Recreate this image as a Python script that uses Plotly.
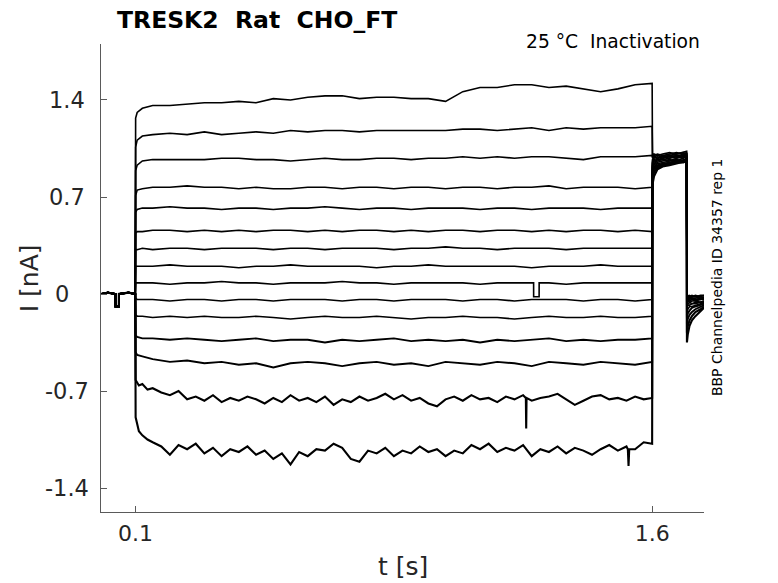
import plotly.graph_objects as go

# holding period before the test pulse (shared by all sweeps)
t_pre = [0.0, 0.02, 0.042, 0.0421, 0.052, 0.0521, 0.08, 0.0995]
i_pre = [0.0, 0.01, 0.0, -0.09, -0.09, 0.0, 0.01, 0.0]

# test pulse, 0.1 s .. 1.6 s
t_pulse = [0.1005, 0.105, 0.12, 0.15, 0.20, 0.25, 0.30, 0.35, 0.40, 0.45, 0.50,
           0.55, 0.60, 0.65, 0.70, 0.75, 0.80, 0.85, 0.90, 0.95, 1.00, 1.05,
           1.10, 1.15, 1.20, 1.25, 1.30, 1.35, 1.40, 1.45, 1.50, 1.55, 1.5995]

# the two noisiest sweeps are read on a finer grid
t_fine = [0.1005, 0.105, 0.11, 0.12, 0.135,
          0.150, 0.175, 0.200, 0.225, 0.250, 0.275, 0.300, 0.325, 0.350, 0.375,
          0.400, 0.425, 0.450, 0.475, 0.500, 0.525, 0.550, 0.575, 0.600, 0.625,
          0.650, 0.675, 0.700, 0.725, 0.750, 0.775, 0.800, 0.825, 0.850, 0.875,
          0.900, 0.925, 0.950, 0.975, 1.000, 1.025, 1.050, 1.075, 1.100, 1.125,
          1.150, 1.175, 1.200, 1.225, 1.250, 1.275, 1.300, 1.325, 1.350, 1.375,
          1.400, 1.425, 1.450, 1.475, 1.500, 1.525, 1.550, 1.575, 1.5995]

sweep01 = [1.27, 1.31, 1.34, 1.36, 1.36, 1.37, 1.38, 1.38, 1.39, 1.38, 1.41, 1.40, 1.42, 1.43, 1.43, 1.41, 1.42,
           1.42, 1.41, 1.41, 1.39, 1.46, 1.49, 1.49, 1.51, 1.51, 1.49, 1.50, 1.48, 1.46, 1.48, 1.51, 1.52]
sweep02 = [1.06, 1.11, 1.14, 1.15, 1.16, 1.15, 1.17, 1.15, 1.16, 1.17, 1.16, 1.18, 1.17, 1.18, 1.18, 1.17, 1.18,
           1.18, 1.18, 1.18, 1.18, 1.19, 1.19, 1.18, 1.19, 1.20, 1.18, 1.20, 1.19, 1.20, 1.20, 1.20, 1.21]
sweep03 = [0.89, 0.93, 0.96, 0.97, 0.97, 0.97, 0.97, 0.98, 0.98, 0.97, 0.97, 0.96, 0.97, 0.98, 0.97, 0.97, 0.98,
           0.98, 0.97, 0.98, 0.98, 0.99, 0.98, 0.99, 0.98, 0.99, 0.99, 0.98, 0.97, 0.99, 0.99, 0.99, 1.00]
sweep04 = [0.71, 0.75, 0.76, 0.77, 0.77, 0.78, 0.77, 0.77, 0.76, 0.77, 0.76, 0.76, 0.77, 0.77, 0.76, 0.77, 0.77,
           0.76, 0.77, 0.77, 0.76, 0.77, 0.77, 0.76, 0.77, 0.77, 0.78, 0.76, 0.77, 0.77, 0.77, 0.76, 0.77]
sweep05 = [0.59, 0.61, 0.62, 0.62, 0.63, 0.62, 0.62, 0.61, 0.62, 0.62, 0.61, 0.62, 0.62, 0.63, 0.62, 0.61, 0.62,
           0.62, 0.61, 0.62, 0.62, 0.62, 0.61, 0.62, 0.62, 0.61, 0.62, 0.62, 0.62, 0.61, 0.62, 0.62, 0.62]
sweep06 = [0.44, 0.45, 0.45, 0.46, 0.46, 0.45, 0.46, 0.45, 0.46, 0.45, 0.46, 0.46, 0.45, 0.46, 0.45, 0.46, 0.46,
           0.45, 0.46, 0.45, 0.46, 0.46, 0.45, 0.46, 0.46, 0.45, 0.46, 0.45, 0.46, 0.46, 0.45, 0.46, 0.45]
sweep07 = [0.32, 0.32, 0.33, 0.32, 0.33, 0.33, 0.32, 0.33, 0.33, 0.33, 0.32, 0.33, 0.33, 0.32, 0.33, 0.33, 0.33,
           0.32, 0.33, 0.33, 0.34, 0.33, 0.33, 0.32, 0.33, 0.33, 0.33, 0.32, 0.33, 0.33, 0.33, 0.33, 0.33]
sweep08 = [0.20, 0.20, 0.20, 0.20, 0.21, 0.20, 0.20, 0.20, 0.19, 0.20, 0.20, 0.21, 0.20, 0.20, 0.20, 0.20, 0.19,
           0.20, 0.20, 0.21, 0.20, 0.20, 0.20, 0.20, 0.20, 0.19, 0.20, 0.20, 0.20, 0.21, 0.20, 0.20, 0.20]
sweep09 = [0.08, 0.08, 0.08, 0.08, 0.07, 0.08, 0.08, 0.09, 0.08, 0.08, 0.07, 0.08, 0.08, 0.08, 0.09, 0.08, 0.08,
           0.07, 0.08, 0.08, 0.08, 0.08, 0.07, 0.08, 0.08, 0.08, 0.08, 0.07, 0.08, 0.08, 0.08, 0.08, 0.08]
sweep10 = [-0.03, -0.04, -0.04, -0.04, -0.05, -0.04, -0.04, -0.05, -0.04, -0.04, -0.05, -0.04, -0.04, -0.04,
           -0.05, -0.04, -0.04, -0.05, -0.04, -0.04, -0.04, -0.05, -0.04, -0.04, -0.05, -0.04, -0.04, -0.04,
           -0.05, -0.04, -0.04, -0.05, -0.04]
sweep11 = [-0.15, -0.16, -0.16, -0.17, -0.16, -0.17, -0.16, -0.17, -0.17, -0.16, -0.17, -0.18, -0.17, -0.16,
           -0.17, -0.17, -0.16, -0.17, -0.18, -0.17, -0.17, -0.16, -0.17, -0.17, -0.18, -0.17, -0.16, -0.17,
           -0.17, -0.16, -0.17, -0.17, -0.16]
sweep12 = [-0.30, -0.31, -0.32, -0.32, -0.33, -0.32, -0.33, -0.34, -0.33, -0.32, -0.34, -0.33, -0.33, -0.35,
           -0.33, -0.34, -0.33, -0.32, -0.34, -0.33, -0.34, -0.33, -0.35, -0.33, -0.34, -0.33, -0.32, -0.34,
           -0.33, -0.34, -0.33, -0.33, -0.32]
sweep13 = [-0.42, -0.44, -0.45, -0.47, -0.49, -0.48, -0.50, -0.49, -0.51, -0.50, -0.53, -0.50, -0.49, -0.50,
           -0.52, -0.50, -0.49, -0.51, -0.50, -0.52, -0.49, -0.50, -0.51, -0.49, -0.50, -0.52, -0.49, -0.50,
           -0.51, -0.49, -0.50, -0.51, -0.49]
sweep14 = [-0.62, -0.64, -0.66, -0.65, -0.69,
           -0.68, -0.71, -0.73, -0.70, -0.76, -0.74, -0.77, -0.73, -0.78, -0.75,
           -0.77, -0.74, -0.76, -0.79, -0.75, -0.78, -0.73, -0.77, -0.75, -0.78,
           -0.74, -0.80, -0.76, -0.78, -0.74, -0.77, -0.75, -0.72, -0.76, -0.73,
           -0.77, -0.75, -0.79, -0.81, -0.76, -0.74, -0.77, -0.73, -0.76, -0.75,
           -0.78, -0.74, -0.76, -0.73, -0.77, -0.75, -0.74, -0.72, -0.76, -0.80,
           -0.77, -0.74, -0.73, -0.76, -0.75, -0.77, -0.74, -0.76, -0.75]
sweep15 = [-0.89, -0.95, -0.99, -1.02, -1.05,
           -1.07, -1.10, -1.16, -1.09, -1.12, -1.08, -1.15, -1.11, -1.17, -1.12,
           -1.14, -1.10, -1.16, -1.13, -1.19, -1.15, -1.23, -1.14, -1.17, -1.12,
           -1.13, -1.08, -1.11, -1.19, -1.21, -1.13, -1.15, -1.11, -1.17, -1.13,
           -1.15, -1.10, -1.14, -1.12, -1.17, -1.13, -1.15, -1.09, -1.12, -1.08,
           -1.14, -1.11, -1.13, -1.09, -1.17, -1.12, -1.14, -1.10, -1.15, -1.11,
           -1.13, -1.16, -1.12, -1.09, -1.13, -1.10, -1.12, -1.07, -1.08]

# brief artefacts inside the pulse (time, current)
glitch09_t = [1.2555, 1.2556, 1.2715, 1.2716]
glitch09_i = [0.08, -0.02, -0.02, 0.08]
glitch14_t = [1.233, 1.234, 1.235]
glitch14_i = [-0.75, -0.97, -0.75]
glitch15_t = [1.529, 1.531, 1.533]
glitch15_i = [-1.12, -1.24, -1.12]

# tail step 1.6 .. 1.7 s
t_tail = [1.6005, 1.605, 1.615, 1.63, 1.65, 1.67, 1.69, 1.6995]
tail = [
    [1.00, 1.01, 1.00, 1.01, 1.02, 1.01, 1.02, 1.03],
    [0.99, 1.00, 1.01, 1.00, 1.01, 1.02, 1.01, 1.02],
    [0.98, 0.99, 1.00, 0.99, 1.00, 1.01, 1.02, 1.01],
    [0.97, 0.99, 0.98, 1.00, 0.99, 1.00, 1.01, 1.01],
    [0.96, 0.98, 0.99, 0.98, 1.00, 0.99, 1.00, 1.01],
    [0.95, 0.97, 0.98, 0.99, 0.98, 1.00, 0.99, 1.00],
    [0.94, 0.96, 0.97, 0.98, 0.99, 0.98, 1.00, 0.99],
    [0.93, 0.95, 0.97, 0.97, 0.98, 0.99, 0.98, 1.00],
    [0.92, 0.94, 0.96, 0.97, 0.96, 0.98, 0.99, 0.98],
    [0.91, 0.93, 0.95, 0.96, 0.97, 0.96, 0.98, 0.99],
    [0.89, 0.92, 0.94, 0.95, 0.96, 0.97, 0.96, 0.98],
    [0.87, 0.91, 0.93, 0.94, 0.95, 0.96, 0.97, 0.97],
    [0.85, 0.90, 0.92, 0.94, 0.94, 0.95, 0.96, 0.97],
    [0.83, 0.88, 0.91, 0.93, 0.94, 0.95, 0.95, 0.96],
    [0.79, 0.85, 0.90, 0.92, 0.93, 0.94, 0.95, 0.96],
]

# after the tail step, 1.7 .. 1.75 s
t_post = [1.7005, 1.703, 1.708, 1.715, 1.725, 1.74, 1.75]
post = [
    [-0.01, -0.01, -0.02, -0.01, -0.02, -0.01, -0.01],
    [-0.01, -0.02, -0.01, -0.02, -0.01, -0.02, -0.01],
    [-0.02, -0.02, -0.03, -0.02, -0.02, -0.03, -0.02],
    [-0.02, -0.03, -0.02, -0.03, -0.03, -0.02, -0.03],
    [-0.03, -0.03, -0.04, -0.03, -0.04, -0.03, -0.03],
    [-0.04, -0.04, -0.03, -0.04, -0.04, -0.04, -0.03],
    [-0.05, -0.04, -0.05, -0.04, -0.05, -0.04, -0.04],
    [-0.06, -0.05, -0.06, -0.05, -0.05, -0.06, -0.05],
    [-0.08, -0.07, -0.06, -0.07, -0.06, -0.06, -0.05],
    [-0.10, -0.08, -0.08, -0.07, -0.07, -0.06, -0.06],
    [-0.13, -0.11, -0.09, -0.09, -0.08, -0.07, -0.07],
    [-0.17, -0.14, -0.12, -0.10, -0.09, -0.08, -0.07],
    [-0.22, -0.18, -0.15, -0.13, -0.11, -0.09, -0.08],
    [-0.28, -0.23, -0.19, -0.16, -0.13, -0.11, -0.09],
    [-0.35, -0.29, -0.23, -0.19, -0.16, -0.12, -0.10],
]

sweeps = [sweep01, sweep02, sweep03, sweep04, sweep05, sweep06, sweep07, sweep08,
          sweep09, sweep10, sweep11, sweep12, sweep13, sweep14, sweep15]
glitches = {8: (glitch09_t, glitch09_i), 13: (glitch14_t, glitch14_i), 14: (glitch15_t, glitch15_i)}

y_ticks = [-1.4, -0.7, 0, 0.7, 1.4]
y_ticktext = ["-1.4", "-0.7", "0", "0.7", "1.4"]

FONT = "DejaVu Sans"
INK = "#262626"
AXIS = "#5a5a5a"

fig = go.Figure()
for k, sw in enumerate(sweeps):
    tt = t_fine if len(sw) == len(t_fine) else t_pulse
    pts = list(zip(tt, sw))
    if k in glitches:
        pts += list(zip(*glitches[k]))
        pts.sort()
    x = t_pre + [p[0] for p in pts] + t_tail + t_post
    y = i_pre + [p[1] for p in pts] + tail[k] + post[k]
    w = 1.6 if k < 11 else (1.9 if k < 13 else 2.1)
    fig.add_trace(go.Scatter(x=x, y=y, mode="lines", showlegend=False,
                             line=dict(color="black", width=w)))

fig.update_xaxes(range=[0, 1.75], tickvals=[0.1, 1.6], ticktext=["0.1", "1.6"],
                 ticks="inside", ticklen=6, tickcolor=AXIS, showline=True, linecolor=AXIS,
                 linewidth=1, showgrid=False, zeroline=False, ticklabelstandoff=2,
                 tickfont=dict(family=FONT, size=22, color=INK))
fig.update_yaxes(range=[-1.573, 1.804], tickvals=y_ticks, showticklabels=False,
                 ticks="inside", ticklen=6, tickcolor=AXIS, showline=True, linecolor=AXIS,
                 linewidth=1, showgrid=False, zeroline=False)

notes = [
    dict(text="<b>TRESK2 \u00a0Rat \u00a0CHO_FT</b>", xref="paper", yref="paper",
         x=0.023, y=1.051, xanchor="left", yanchor="middle", showarrow=False,
         font=dict(size=23.5, color="black")),
    dict(text="25 °C \u00a0Inactivation", xref="paper", yref="paper",
         x=0.9967, y=1.0064, xanchor="right", yanchor="middle", showarrow=False,
         font=dict(size=18.7, color="black")),
    dict(text="BBP Channelpedia ID 34357 rep 1", xref="paper", yref="paper",
         x=1.0216, y=0.502, xanchor="center", yanchor="middle", showarrow=False,
         textangle=-90, font=dict(size=14, color="black")),
    dict(text="I [nA]", xref="paper", yref="paper", x=-0.119, y=0.5,
         xanchor="center", yanchor="middle", showarrow=False, textangle=-90,
         font=dict(size=25, color=INK)),
    dict(text="t [s]", xref="paper", yref="paper", x=0.5, y=-0.1175,
         xanchor="center", yanchor="middle", showarrow=False,
         font=dict(size=25, color=INK)),
]
# y tick labels sit centred in the left gutter, as in the original
for v, s in zip(y_ticks, y_ticktext):
    notes.append(dict(text=s, xref="paper", yref="y", x=-0.0564 if s != "0" else -0.064, y=v,
                      xanchor="center", yanchor="middle", showarrow=False,
                      font=dict(size=22.5, color=INK)))

fig.update_layout(
    width=770, height=575,
    margin=dict(l=93, r=74, t=36, b=71),
    paper_bgcolor="white", plot_bgcolor="white",
    font=dict(family=FONT, color=INK),
    annotations=notes,
)

fig.write_html("out.html")
